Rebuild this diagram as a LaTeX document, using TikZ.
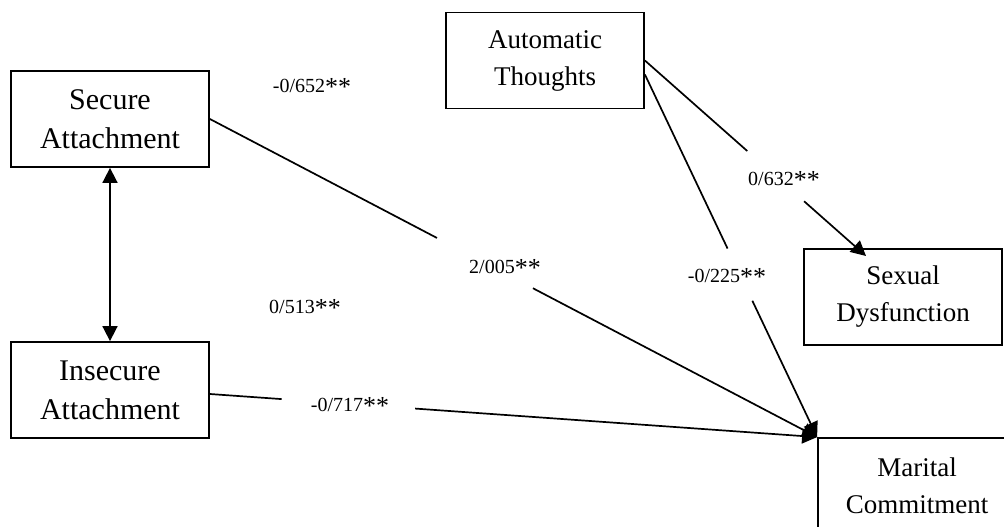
\documentclass[tikz,border=0pt]{standalone}
\usepackage{fontspec}
\setmainfont{Liberation Serif}
\usetikzlibrary{arrows.meta,calc}
% significance marks after each coefficient
\newcommand\twostar{\raisebox{-3pt}{\fontsize{26}{26}\selectfont **}}
\begin{document}
\begin{tikzpicture}[x=1pt,y=-1pt,
  box/.style={draw,line width=1.8pt,minimum width=198pt,minimum height=96pt,inner sep=0pt,align=center},
  bigtext/.style={font=\fontsize{30}{39}\selectfont},
  midtext/.style={font=\fontsize{27}{37}\selectfont},
  link/.style={line width=1.7pt},
  tip/.style={-{Triangle[length=15pt,width=15pt]}},
  coef/.style={font=\fontsize{20}{24}\selectfont,inner sep=0pt}]
\useasboundingbox (0,0) rectangle (1004,527);
\clip (0,0) rectangle (1004,527);

% variables
\node[box,bigtext] (sec) at (110,119) {Secure\\Attachment};
\node[box,bigtext] (ins) at (110,390) {Insecure\\Attachment};
\node[box,midtext] (aut) at (545,60.5) {Automatic\\Thoughts};
\node[box,midtext] (sex) at (903,297) {Sexual\\Dysfunction};
\node[box,midtext] (mar) at (917,486) {Marital\\Commitment};

% correlation between the attachment styles
\draw[link,{Triangle[length=15pt,width=15pt]}-{Triangle[length=15pt,width=15pt]}] (sec.south) -- (ins.north);

% paths, each broken where its coefficient sits
\coordinate (s0) at (sec.east);
\coordinate (s1) at ($(s0)!0.374!(mar.north west)$);
\coordinate (s2) at ($(s0)!0.532!(mar.north west)$);
\draw[link] (s0) -- (s1);
\draw[link,tip] (s2) -- (mar.north west);

\coordinate (i0) at ([yshift=-4pt]ins.east);
\coordinate (i1) at ($(i0)!0.118!(mar.north west)$);
\coordinate (i2) at ($(i0)!0.338!(mar.north west)$);
\draw[link] (i0) -- (i1);
\draw[link,tip] (i2) -- (mar.north west);

\coordinate (a0) at (aut.east);
\coordinate (ax) at (866,256);
\coordinate (a1) at ($(a0)!0.463!(ax)$);
\coordinate (a2) at ($(a0)!0.72!(ax)$);
\draw[link] (a0) -- (a1);
\draw[link,tip] (a2) -- (ax);

\coordinate (b0) at ([yshift=-14pt]aut.east);
\coordinate (b1) at ($(b0)!0.48!(mar.north west)$);
\coordinate (b2) at ($(b0)!0.624!(mar.north west)$);
\draw[link] (b0) -- (b1);
\draw[link,tip] (b2) -- (mar.north west);

% coefficients
\node[coef] (c1) at (312,87) {-0/652\twostar};
\node[coef] (c2) at (505,268) {2/005\twostar};
\node[coef] (c3) at (350,406) {-0/717\twostar};
\node[coef] (c4) at (305,308) {0/513\twostar};
\node[coef] (c5) at (784,180) {0/632\twostar};
\node[coef] (c6) at (727,277) {-0/225\twostar};
\end{tikzpicture}
\end{document}
